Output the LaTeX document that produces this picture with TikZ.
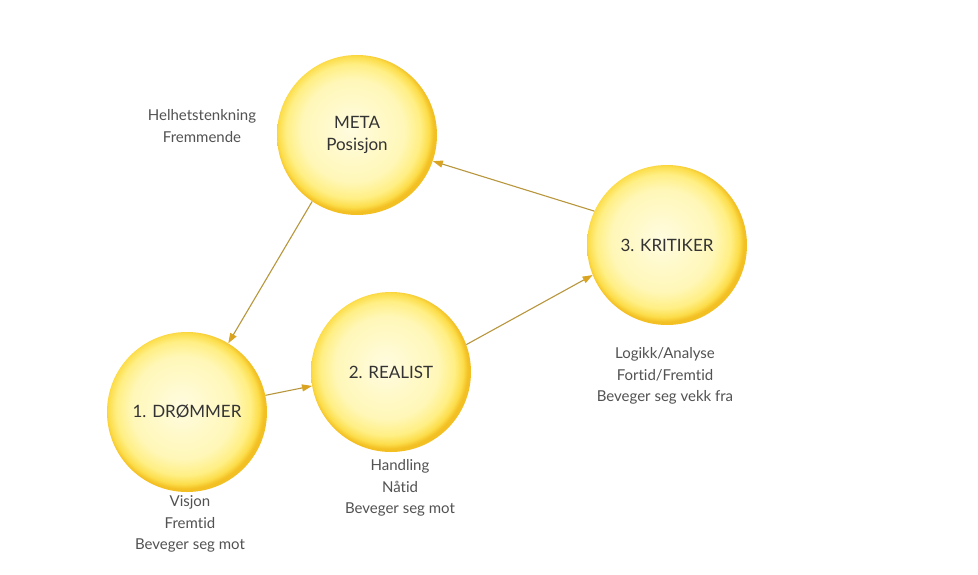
\documentclass[tikz,border=0pt]{standalone}
\usepackage{fontspec}
\setmainfont{Lato}[Ligatures={NoCommon}]
\usetikzlibrary{arrows.meta}
\definecolor{sunA}{HTML}{FFFCE0}
\definecolor{sunB}{HTML}{FFF7B8}
\definecolor{sunC}{HTML}{FFEF84}
\definecolor{sunD}{HTML}{FCDD4A}
\definecolor{sunE}{HTML}{F3C024}
\definecolor{linec}{HTML}{B8963C}
\definecolor{tipc}{HTML}{D9A422}
\definecolor{txt}{HTML}{333333}
\pgfdeclareradialshading{sunshade}{\pgfpoint{-2bp}{2bp}}{color(0bp)=(sunA); color(16bp)=(sunB); color(21bp)=(sunC); color(23.6bp)=(sunD); color(25bp)=(sunE); color(50bp)=(sunE)}
\tikzset{
  sun/.style={circle, minimum size=160pt, inner sep=0pt, shading=sunshade, align=center, text=txt, font=\fontsize{17}{22}\selectfont},
  lbl/.style={align=center, text=txt!85, font=\fontsize{15}{21.5}\selectfont, inner sep=0pt},
  conn/.style={draw=linec, line width=1.1pt, -{Triangle[length=10pt,width=7pt,color=tipc]}}
}
\begin{document}
\begin{tikzpicture}[x=1pt,y=-1pt]
\useasboundingbox (0,0) rectangle (978,574);
\fill[white] (0,0) rectangle (978,574);
\node[sun] (meta) at (357,135) {META\\Posisjon};
\node[sun] (drom) at (187,412) {1. DRØMMER};
\node[sun] (real) at (391,372) {2. REALIST};
\node[sun] (krit) at (667,245) {3. KRITIKER};
\node[lbl] (lmeta) at (202,126) {Helhetstenkning\\Fremmende};
\node[lbl] (ldrom) at (190,524) {Visjon\\Fremtid\\Beveger seg mot};
\node[lbl] (lreal) at (400,488) {Handling\\Nåtid\\Beveger seg mot};
\node[lbl] (lkrit) at (665,376) {Logikk/Analyse\\Fortid/Fremtid\\Beveger seg vekk fra};
\draw[conn] (meta.236) -- (drom.59);
\draw[conn] (drom.12) -- (real.190);
\draw[conn] (real.20) -- (krit.202);
\draw[conn] (krit.155) -- (meta.-19);
\end{tikzpicture}
\end{document}
